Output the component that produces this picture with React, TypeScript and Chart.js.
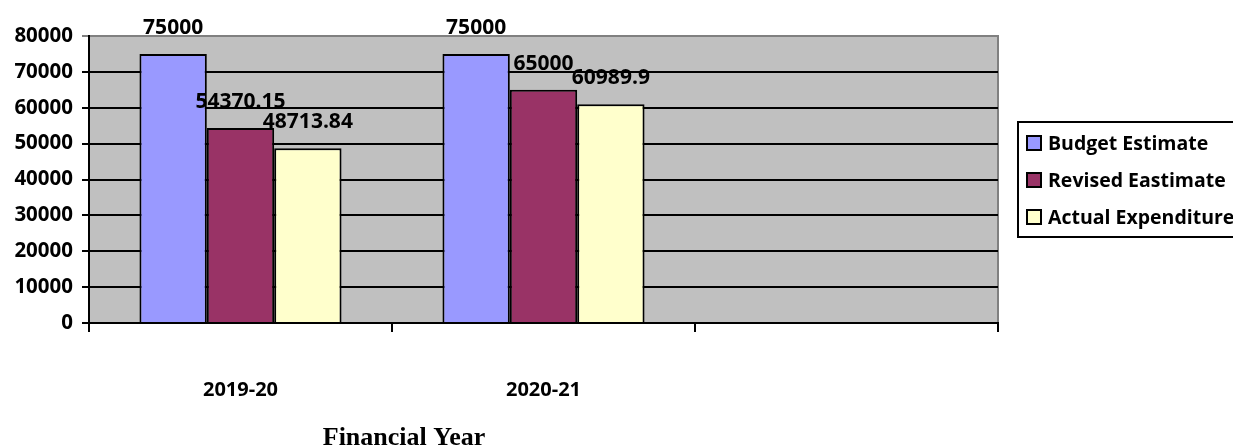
import React, { useEffect, useRef } from "react";
import { Chart, registerables } from "chart.js";

Chart.register(...registerables);

const categories = ["2019-20", "2020-21", ""];
const budgetEstimate = [75000, 75000, null];
const revisedEstimate = [54370.15, 65000, null];
const actualExpenditure = [48713.84, 60989.9, null];
const seriesNames = ["Budget Estimate", "Revised Eastimate", "Actual Expenditure"];
const seriesColors = ["#9999FF", "#993366", "#FFFFCC"];
const labelTexts = [
  ["75000", "75000"],
  ["54370.15", "65000"],
  ["48713.84", "60989.9"],
];
const xTitle = "Financial Year";
const yMax = 80000;
const yStep = 10000;

const SANS = "'Open Sans', 'Noto Sans', sans-serif";

const plotBg = {
  id: "plotBg",
  beforeDraw(chart: any) {
    const { ctx, chartArea: a } = chart;
    ctx.save();
    ctx.fillStyle = "#C0C0C0";
    ctx.fillRect(a.left, a.top, a.right - a.left, a.bottom - a.top);
    ctx.strokeStyle = "#808080";
    ctx.lineWidth = 2;
    ctx.beginPath();
    ctx.moveTo(a.left, a.top);
    ctx.lineTo(a.right, a.top);
    ctx.lineTo(a.right, a.bottom);
    ctx.stroke();
    ctx.restore();
  },
};

const dataLabels = {
  id: "dataLabels",
  afterDatasetsDraw(chart: any) {
    const { ctx } = chart;
    ctx.save();
    ctx.fillStyle = "#000";
    ctx.font = `bold 21px ${SANS}`;
    ctx.textAlign = "center";
    ctx.textBaseline = "alphabetic";
    chart.data.datasets.forEach((ds: any, di: number) => {
      const meta = chart.getDatasetMeta(di);
      meta.data.forEach((bar: any, i: number) => {
        const v = ds.data[i];
        if (v === null || v === undefined) return;
        const txt = labelTexts[di][i];
        ctx.fillText(txt, bar.x, bar.y - 20);
      });
    });
    ctx.restore();
  },
};

const extras = {
  id: "extras",
  afterDraw(chart: any) {
    const { ctx } = chart;
    ctx.save();
    ctx.fillStyle = "#000";
    ctx.font = "bold 26px 'Liberation Serif', 'DejaVu Serif', serif";
    ctx.textAlign = "center";
    ctx.textBaseline = "middle";
    ctx.fillText(xTitle, 404, 438);
    const lx = 1018, ly = 122, lw = 300, lh = 115;
    ctx.fillStyle = "#fff";
    ctx.fillRect(lx, ly, lw, lh);
    ctx.strokeStyle = "#000";
    ctx.lineWidth = 2;
    ctx.strokeRect(lx, ly, lw, lh);
    ctx.font = `bold 19.5px ${SANS}`;
    ctx.textAlign = "left";
    ctx.textBaseline = "middle";
    const ys = [143, 180, 217];
    seriesNames.forEach((n, i) => {
      ctx.fillStyle = seriesColors[i];
      ctx.fillRect(1027, ys[i] - 7, 14, 14);
      ctx.strokeStyle = "#000";
      ctx.lineWidth = 2;
      ctx.strokeRect(1027, ys[i] - 7, 14, 14);
      ctx.fillStyle = "#000";
      ctx.fillText(n, 1048, ys[i] + 1);
    });
    ctx.restore();
  },
};

export default function App() {
  const ref = useRef<HTMLCanvasElement>(null);
  useEffect(() => {
    if (!ref.current) return;
    const datasets = [budgetEstimate, revisedEstimate, actualExpenditure].map((d, i) => ({
      label: seriesNames[i],
      data: d,
      backgroundColor: seriesColors[i],
      borderColor: "#000",
      borderWidth: 2,
      categoryPercentage: 0.667,
      barPercentage: 1,
    }));
    const chart = new Chart(ref.current, {
      type: "bar",
      data: { labels: categories, datasets },
      plugins: [plotBg, dataLabels, extras],
      options: {
        responsive: false,
        animation: false,
        layout: { padding: { top: 36, right: 235, left: 0, bottom: 0 } },
        plugins: { legend: { display: false }, tooltip: { enabled: false } },
        scales: {
          x: {
            offset: true,
            grid: {
              offset: true,
              drawOnChartArea: false,
              drawTicks: true,
              tickLength: 9,
              color: "#000",
              lineWidth: 2,
            },
            border: { display: true, color: "#000", width: 2 },
            ticks: {
              color: "#000",
              font: { family: SANS, weight: "bold", size: 20 },
              padding: 46,
              maxRotation: 0,
            },
            afterFit(scale: any) {
              scale.height = 123;
            },
          },
          y: {
            min: 0,
            max: yMax,
            ticks: {
              stepSize: yStep,
              color: "#000",
              font: { family: SANS, weight: "bold", size: 20.5 },
              padding: 9,
              callback: (v: any) => String(v),
            },
            grid: {
              color: (c: any) => (c.tick && c.tick.value === yMax ? "#808080" : "#000"),
              lineWidth: 2,
              tickLength: 7,
              drawTicks: true,
            },
            border: { display: true, color: "#000", width: 2 },
            afterFit(scale: any) {
              scale.width = 89;
            },
          },
        },
      },
    });
    return () => chart.destroy();
  }, []);
  return (
    <div style={{ position: "fixed", left: 0, top: 0, width: 1233, height: 446, background: "#fff" }}>
      <canvas ref={ref} width={1233} height={446} style={{ width: 1233, height: 446 }} />
    </div>
  );
}
